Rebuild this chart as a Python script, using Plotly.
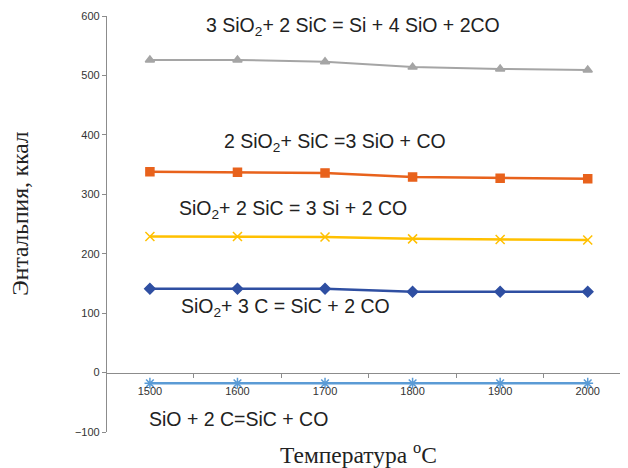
import plotly.graph_objects as go

temps = ["1500", "1600", "1700", "1800", "1900", "2000"]
r1_vals = [526, 526, 523, 514, 511, 509]   # 3 SiO2 + 2 SiC
r2_vals = [338, 337, 336, 329, 327, 326]   # 2 SiO2 + SiC
r3_vals = [229, 229, 228, 225, 224, 223]   # SiO2 + 2 SiC
r4_vals = [141, 141, 141, 136, 136, 136]   # SiO2 + 3 C
r5_vals = [-18, -18, -18, -18, -18, -18]   # SiO + 2 C

series = [
    ("3 SiO2 + 2 SiC", r1_vals, "#a5a5a5", "triangle-up", 8, 2),
    ("2 SiO2 + SiC", r2_vals, "#e8621c", "square", 8, 2.5),
    ("SiO2 + 2 SiC", r3_vals, "#ffc000", "x-thin-open", 9, 2.5),
    ("SiO2 + 3 C", r4_vals, "#2f4fa2", "diamond", 8, 2.5),
    ("SiO + 2 C", r5_vals, "#5b9bd5", "asterisk-open", 9, 2.5),
]

fig = go.Figure()
for name, vals, col, sym, sz, lw in series:
    fig.add_trace(go.Scatter(
        x=temps, y=vals, name=name, mode="lines+markers",
        line=dict(color=col, width=lw),
        marker=dict(symbol=sym, size=sz, color=col, line=dict(color=col, width=1.5)),
    ))

labels = [
    ("3 SiO<sub>2</sub>+ 2 SiC = Si + 4 SiO + 2CO", 0.186, 0.974),
    ("2 SiO<sub>2</sub>+ SiC =3 SiO + CO", 0.221, 0.695),
    ("SiO<sub>2</sub>+ 2 SiC = 3 Si + 2 CO", 0.134, 0.534),
    ("SiO<sub>2</sub>+ 3 C = SiC + 2 CO", 0.138, 0.300),
    ("SiO + 2 C=SiC + CO", 0.077, 0.031),
]
for txt, x, y in labels:
    fig.add_annotation(text=txt, xref="paper", yref="paper", x=x, y=y,
                       xanchor="left", yanchor="middle", showarrow=False,
                       font=dict(family="Arial, Liberation Sans", size=19.5, color="#222"))

fig.add_annotation(text="Энтальпия, ккал", xref="paper", yref="paper", x=-0.166, y=0.526,
                   textangle=-90, showarrow=False, xanchor="center", yanchor="middle",
                   font=dict(family="Liberation Serif, Times New Roman", size=23.5, color="#222"))
fig.add_annotation(text="Температура <sup>o</sup>C", xref="paper", yref="paper", x=0.482, y=-0.05,
                   showarrow=False, xanchor="center", yanchor="middle",
                   font=dict(family="Liberation Serif, Times New Roman", size=23.5, color="#222"))

fig.update_layout(
    width=620, height=460,
    margin=dict(l=99, r=0, t=8, b=36),
    paper_bgcolor="white", plot_bgcolor="white",
    showlegend=False,
    xaxis=dict(type="category", range=[-0.49, 5.46], anchor="free", position=100/700,
               showline=True, linecolor="#8c8c8c", linewidth=1.2,
               ticks="outside", ticklen=4, tickcolor="#8c8c8c", tickson="boundaries",
               showgrid=False, zeroline=False, automargin=False, ticklabelstandoff=8,
               tickfont=dict(family="Arial", size=11, color="#333")),
    yaxis=dict(range=[-100, 600], dtick=100, showline=True, linecolor="#8c8c8c", linewidth=1.2,
               ticks="outside", ticklen=4, tickcolor="#8c8c8c", showgrid=False, zeroline=False,
               automargin=False,
               tickfont=dict(family="Arial", size=11, color="#333")),
)

fig.write_html("out.html")
